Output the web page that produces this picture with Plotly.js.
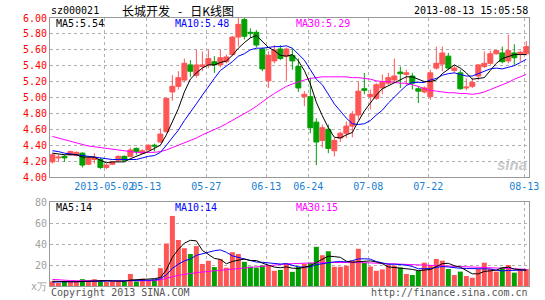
<!DOCTYPE html>
<html>
<head>
<meta charset="utf-8">
<script src="https://cdn.plot.ly/plotly-3.0.1.min.js"></script>
<style>
  html, body { margin: 0; padding: 0; background: #fff; }
  #chart { width: 545px; height: 300px; }
</style>
</head>
<body>
<div id="chart"></div>
<script>
// ---- data ----
var dates = ['04-16','04-17','04-18','04-19','04-22','04-23','04-24','04-25','04-26',
  '05-02','05-03','05-06','05-07','05-08','05-09','05-10','05-13','05-14','05-15','05-16','05-17',
  '05-20','05-21','05-22','05-23','05-24','05-27','05-28','05-29','05-30','05-31',
  '06-03','06-04','06-05','06-06','06-07','06-13','06-14','06-17','06-18','06-19','06-20','06-21',
  '06-24','06-25','06-26','06-27','06-28','07-01','07-02','07-03','07-04','07-05',
  '07-08','07-09','07-10','07-11','07-12','07-15','07-16','07-17','07-18','07-19',
  '07-22','07-23','07-24','07-25','07-26','07-29','07-30','07-31','08-01','08-02',
  '08-05','08-06','08-07','08-08','08-09','08-12','08-13'];

var openP  = [4.19,4.24,4.26,4.28,4.27,4.30,4.16,4.22,4.22,4.12,4.16,4.21,4.26,4.26,4.36,4.30,4.34,4.40,4.44,4.57,
              5.07,5.14,5.22,5.41,5.28,5.39,5.41,5.45,5.41,5.45,5.54,5.76,5.98,5.82,5.82,5.61,5.21,5.46,5.61,5.52,
              5.53,5.39,5.01,5.01,4.69,4.46,4.60,4.33,4.49,4.55,4.64,4.78,5.11,5.01,4.99,5.12,5.18,5.22,5.32,5.29,
              5.27,5.11,5.07,5.01,5.37,5.42,5.52,5.34,5.31,5.12,5.14,5.27,5.39,5.43,5.55,5.56,5.46,5.56,5.55,5.55];
var highP  = [4.30,4.28,4.28,4.33,4.32,4.31,4.25,4.30,4.24,4.17,4.20,4.27,4.27,4.37,4.37,4.35,4.41,4.42,4.61,4.99,
              5.28,5.33,5.49,5.47,5.60,5.58,5.60,5.52,5.60,5.54,5.77,6.00,6.00,5.87,5.85,5.63,5.58,5.66,5.66,5.63,
              5.62,5.49,5.08,5.25,4.74,4.66,4.66,4.49,4.57,4.70,4.83,5.20,5.31,5.10,5.18,5.29,5.31,5.49,5.39,5.35,
              5.31,5.14,5.14,5.35,5.64,5.64,5.56,5.41,5.35,5.24,5.25,5.42,5.58,5.59,5.60,5.64,5.79,5.67,5.59,5.71];
var lowP   = [4.17,4.19,4.19,4.27,4.26,4.12,4.15,4.17,4.10,4.10,4.15,4.20,4.20,4.25,4.28,4.29,4.33,4.32,4.43,4.56,
              4.96,5.10,5.19,5.26,5.25,5.33,5.37,5.31,5.38,5.43,5.52,5.64,5.73,5.75,5.63,5.33,5.12,5.43,5.47,5.21,
              5.35,5.07,4.89,4.55,4.15,4.37,4.30,4.26,4.44,4.49,4.50,4.72,5.04,4.85,4.97,5.04,5.16,5.18,5.12,5.16,
              5.10,4.93,5.05,4.97,5.35,5.33,5.35,5.31,5.10,5.09,5.12,5.22,5.37,5.41,5.54,5.43,5.43,5.41,5.45,5.53];
var closeP = [4.28,4.25,4.24,4.32,4.31,4.15,4.24,4.25,4.12,4.15,4.19,4.26,4.21,4.34,4.32,4.33,4.40,4.39,4.54,4.99,
              5.14,5.25,5.43,5.33,5.41,5.41,5.49,5.41,5.50,5.51,5.76,5.92,5.77,5.81,5.66,5.36,5.53,5.60,5.49,5.61,
              5.46,5.12,5.04,4.62,4.44,4.62,4.36,4.46,4.55,4.64,4.79,5.08,5.09,5.04,5.16,5.19,5.25,5.27,5.30,5.31,
              5.18,5.08,5.12,5.31,5.43,5.56,5.37,5.37,5.11,5.13,5.19,5.41,5.43,5.55,5.59,5.45,5.59,5.50,5.57,5.64];

var ma5  = [4.30,4.29,4.28,4.28,4.28,4.25,4.25,4.25,4.21,4.18,4.19,4.19,4.19,4.23,4.26,4.29,4.32,4.36,4.40,4.53,
            4.69,4.86,5.07,5.23,5.31,5.37,5.41,5.41,5.44,5.46,5.53,5.62,5.69,5.75,5.78,5.70,5.63,5.59,5.53,5.52,
            5.54,5.46,5.34,5.17,4.94,4.77,4.62,4.50,4.49,4.53,4.56,4.70,4.83,4.93,5.03,5.11,5.15,5.18,5.23,5.26,
            5.26,5.23,5.20,5.20,5.22,5.30,5.36,5.41,5.37,5.31,5.23,5.24,5.25,5.34,5.43,5.49,5.52,5.54,5.54,5.54];
var ma10 = [4.33,4.32,4.30,4.29,4.28,4.27,4.26,4.25,4.24,4.23,4.22,4.22,4.22,4.22,4.22,4.24,4.26,4.27,4.31,4.40,
            4.49,4.59,4.71,4.81,4.92,5.03,5.14,5.24,5.34,5.39,5.45,5.52,5.55,5.60,5.62,5.62,5.63,5.64,5.64,5.65,
            5.62,5.55,5.47,5.35,5.23,5.16,5.04,4.92,4.83,4.74,4.67,4.66,4.67,4.71,4.78,4.84,4.93,5.01,5.08,5.15,
            5.19,5.19,5.19,5.22,5.24,5.28,5.30,5.31,5.29,5.27,5.27,5.30,5.33,5.36,5.37,5.36,5.38,5.40,5.44,5.48];
var ma30 = [4.51,4.49,4.47,4.45,4.43,4.41,4.39,4.38,4.37,4.36,4.35,4.34,4.33,4.32,4.31,4.31,4.31,4.31,4.32,4.34,
            4.37,4.40,4.43,4.46,4.49,4.53,4.56,4.59,4.63,4.67,4.71,4.75,4.79,4.84,4.89,4.95,5.00,5.05,5.10,5.14,
            5.17,5.20,5.22,5.24,5.25,5.26,5.26,5.26,5.26,5.26,5.25,5.25,5.24,5.23,5.21,5.20,5.20,5.19,5.18,5.18,
            5.16,5.14,5.11,5.09,5.08,5.07,5.06,5.06,5.05,5.05,5.04,5.05,5.07,5.10,5.13,5.16,5.19,5.23,5.26,5.29];

var volume = [4.4,3.0,4.4,4.4,3.8,6.5,4.4,6.5,5.0,3.8,4.4,4.4,4.4,11.5,4.4,7.0,5.8,6.3,17.0,40.5,
              66.7,43.8,36.0,30.5,38.0,21.0,24.0,18.0,25.5,17.5,32.2,30.5,23.0,18.5,17.5,19.5,20.0,14.5,15.4,21.5,
              13.5,18.2,21.0,22.0,37.3,29.3,33.1,18.3,18.3,19.2,24.2,35.4,22.0,18.6,14.5,15.8,20.3,19.3,17.6,11.5,
              10.5,14.3,22.2,20.0,25.7,24.1,16.2,10.5,13.7,9.5,7.9,16.2,22.2,16.2,13.7,17.8,20.0,12.7,15.2,16.2];
var vma5  = [4.5,4.3,4.1,4.0,4.0,4.4,4.7,5.1,5.2,5.2,4.8,4.8,4.4,5.7,5.8,6.3,6.6,7.0,8.1,15.3,
             27.3,34.9,40.8,43.5,43.0,33.9,29.9,26.3,25.3,21.2,23.4,24.7,25.7,24.3,24.3,21.8,19.7,18.0,17.4,18.2,
             17.0,16.6,17.9,19.2,22.4,25.6,28.5,28.0,27.3,23.6,22.6,23.1,23.8,23.9,22.9,21.3,18.2,17.7,17.5,16.9,
             15.8,14.6,15.2,15.7,18.5,21.3,21.6,19.3,18.0,14.8,11.6,11.6,13.9,14.4,15.2,17.2,18.0,16.1,15.9,15.0];
var vma10 = [3.8,3.8,3.7,3.7,3.8,4.0,4.2,4.4,4.5,4.6,4.6,4.8,4.8,5.5,5.5,5.6,5.7,5.7,6.9,10.6,
             16.8,20.8,23.9,25.8,29.2,30.6,32.4,33.6,34.4,32.1,28.7,27.3,26.0,24.8,22.8,22.6,22.2,21.9,20.9,21.3,
             19.4,18.2,18.0,18.3,20.3,21.3,22.6,23.0,23.3,23.0,24.1,25.8,25.9,25.6,23.3,22.0,20.7,20.8,20.7,19.9,
             18.6,16.4,16.5,16.6,17.7,18.6,18.1,17.3,16.9,16.7,16.5,16.6,16.6,16.2,15.0,14.4,14.8,15.0,15.2,15.2];
var vma30 = [6.3,5.8,5.3,5.2,5.1,5.1,5.0,5.0,5.0,4.9,4.8,4.8,4.8,4.8,4.8,4.9,4.9,5.0,5.8,7.0,
             8.8,10.2,11.2,12.0,12.7,13.3,14.0,14.5,15.0,15.5,16.0,16.6,17.2,17.6,18.0,18.5,19.5,20.3,20.8,21.0,
             21.3,21.6,21.8,22.0,22.2,22.3,22.4,22.5,22.5,22.4,22.3,22.3,22.2,22.0,21.7,21.4,21.2,21.0,20.8,20.6,
             20.4,20.2,20.0,19.9,19.8,19.6,19.4,19.2,18.9,18.6,18.3,18.0,17.7,17.4,17.1,16.9,16.6,16.3,16.1,15.9];

var tickDates = ['05-02','05-13','05-27','06-13','06-24','07-08','07-22','08-13'];
var tickLabels = ['2013-05-02','05-13','05-27','06-13','06-24','07-08','07-22','08-13'];
var priceTicks = [4.00,4.20,4.40,4.60,4.80,5.00,5.20,5.40,5.60,5.80,6.00];
var volTicks = [0,20,40,60,80];
var volTickText = ['x万','20','40','60','80'];

// ---- styling ----
var RED = '#ff5555', GREEN = '#00a000';
var MONO = 'DejaVu Sans Mono, Liberation Mono, monospace';
var idx = dates.map(function(d, i){ return i; });
var tickPos = tickDates.map(function(d){ return dates.indexOf(d) - 0.35; });

var W = 545, H = 300, L = 50, R = 16, T = 18, B = 14;
var pw = W - L - R, ph = H - T - B;
function px(x){ return (x - L) / pw; }
function py(y){ return (H - B - y) / ph; }

var traces = [
  { type: 'candlestick', x: idx, open: openP, high: highP, low: lowP, close: closeP,
    xaxis: 'x', yaxis: 'y', whiskerwidth: 0, hoverinfo: 'skip',
    increasing: { line: { color: RED, width: 1 }, fillcolor: RED },
    decreasing: { line: { color: GREEN, width: 1 }, fillcolor: GREEN } },
  { type: 'scatter', mode: 'lines', x: idx, y: ma30, line: { color: '#ff00ff', width: 1 }, xaxis: 'x', yaxis: 'y', hoverinfo: 'skip' },
  { type: 'scatter', mode: 'lines', x: idx, y: ma10, line: { color: '#0000ff', width: 1 }, xaxis: 'x', yaxis: 'y', hoverinfo: 'skip' },
  { type: 'scatter', mode: 'lines', x: idx, y: ma5, line: { color: '#000000', width: 1 }, xaxis: 'x', yaxis: 'y', hoverinfo: 'skip' },
  { type: 'bar', x: idx, y: volume, xaxis: 'x2', yaxis: 'y2', hoverinfo: 'skip',
    marker: { color: idx.map(function(i){ return closeP[i] >= openP[i] ? RED : GREEN; }), line: { width: 0 } } },
  { type: 'scatter', mode: 'lines', x: idx, y: vma30, line: { color: '#ff00ff', width: 1 }, xaxis: 'x2', yaxis: 'y2', hoverinfo: 'skip' },
  { type: 'scatter', mode: 'lines', x: idx, y: vma10, line: { color: '#0000ff', width: 1 }, xaxis: 'x2', yaxis: 'y2', hoverinfo: 'skip' },
  { type: 'scatter', mode: 'lines', x: idx, y: vma5, line: { color: '#000000', width: 1 }, xaxis: 'x2', yaxis: 'y2', hoverinfo: 'skip' }
];

var gridCommon = { showgrid: true, gridcolor: '#b0b0b0', griddash: 'dot', gridwidth: 1,
  showline: true, mirror: true, linecolor: '#999999', linewidth: 1, zeroline: false, ticks: '', fixedrange: true };

function ann(text, x, y, color, size, xanchor, family) {
  return { text: text, x: px(x), y: py(y), xref: 'paper', yref: 'paper', showarrow: false,
    xanchor: xanchor || 'left', yanchor: 'middle', font: { family: family || MONO, size: size || 10, color: color || '#000' } };
}

var layout = {
  width: W, height: H, margin: { l: L, r: R, t: T, b: B, pad: 0 },
  paper_bgcolor: '#fff', plot_bgcolor: '#fff', showlegend: false,
  boxgap: 0.1, boxgroupgap: 0.08, bargap: 0.17,
  xaxis: Object.assign({}, gridCommon, { domain: [0, 1], anchor: 'y', range: [-0.4, 79.45],
    tickmode: 'array', tickvals: tickPos, ticktext: tickLabels, tickangle: 0,
    tickfont: { family: MONO, size: 10, color: '#1a7fd4' }, rangeslider: { visible: false } }),
  yaxis: Object.assign({}, gridCommon, { domain: [py(177), 1], anchor: 'x', range: [4, 6],
    tickmode: 'array', tickvals: priceTicks, ticktext: priceTicks.map(function(v){ return v.toFixed(2); }),
    tickfont: { family: MONO, size: 10, color: '#ff0000' } }),
  xaxis2: Object.assign({}, gridCommon, { domain: [0, 1], anchor: 'y2', matches: 'x', range: [-0.4, 79.45],
    tickmode: 'array', tickvals: tickPos, showticklabels: false }),
  yaxis2: Object.assign({}, gridCommon, { domain: [0, py(202)], anchor: 'x2', range: [0, 80],
    tickmode: 'array', tickvals: volTicks, ticktext: volTickText,
    tickfont: { family: MONO, size: 10, color: '#a0a0a0' } }),
  annotations: [
    ann('sz000021', 49, 11, '#000', 10),
    ann('长城开发\u00a0\u00a0\u00a0-\u00a0\u00a0\u00a0日K线图', 178, 11, '#000', 12, 'center', 'Noto Sans CJK SC'),
    ann('2013-08-13 15:05:58', 530, 11, '#000', 10, 'right'),
    ann('MA5:5.54', 54, 24, '#000', 10),
    ann('MA10:5.48', 173, 24, '#0000ff', 10),
    ann('MA30:5.29', 294, 24, '#ff00ff', 10),
    ann('MA5:14', 54, 207, '#000', 10),
    ann('MA10:14', 173, 207, '#0000ff', 10),
    ann('MA30:15', 294, 207, '#ff00ff', 10),
    ann('Copyright 2013 SINA.COM', 49, 292, '#555', 10),
    ann('http://finance.sina.com.cn', 530, 292, '#555', 10, 'right'),
    ann('<i><b>sina</b></i>', 512, 164, '#c8c8c8', 15, 'center', 'Liberation Sans')
  ]
};

Plotly.newPlot('chart', traces, layout, { staticPlot: true, displayModeBar: false });
</script>
</body>
</html>
